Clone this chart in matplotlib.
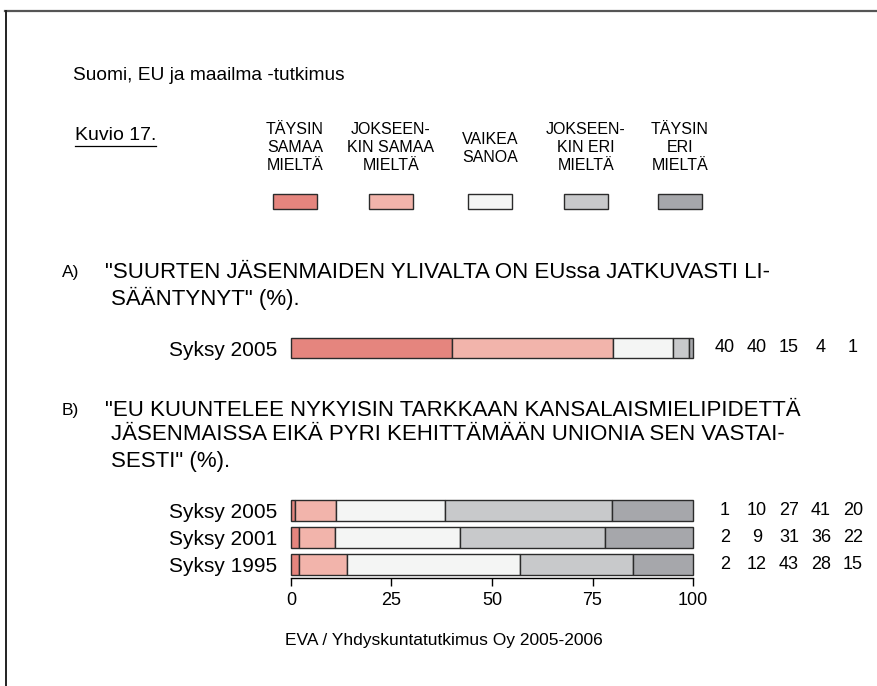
import matplotlib
matplotlib.use("Agg")
import matplotlib.pyplot as plt
from matplotlib.lines import Line2D
from matplotlib.patches import Rectangle

W, H = 878, 686

# Data
legend_labels = [
    "TÄYSIN\nSAMAA\nMIELTÄ",
    "JOKSEEN-\nKIN SAMAA\nMIELTÄ",
    "VAIKEA\nSANOA",
    "JOKSEEN-\nKIN ERI\nMIELTÄ",
    "TÄYSIN\nERI\nMIELTÄ",
]
colors = ["#e5857e", "#f2b4ab", "#f4f5f4", "#c8c9cb", "#a6a7ab"]

categories_a = ["Syksy 2005"]
values_a = [[40, 40, 15, 4, 1]]

categories_b = ["Syksy 2005", "Syksy 2001", "Syksy 1995"]
values_b = [
    [1, 10, 27, 41, 20],
    [2, 9, 31, 36, 22],
    [2, 12, 43, 28, 15],
]
x_ticks = [0, 25, 50, 75, 100]

NARROW = ["Liberation Sans Narrow", "Liberation Sans", "DejaVu Sans"]
REG = ["Liberation Sans", "DejaVu Sans"]


def fx(x):
    return x / W


def fy(y):
    return 1 - y / H


def px_axes(fig, left, top, right, bottom):
    return fig.add_axes([fx(left), fy(bottom), (right - left) / W, (bottom - top) / H])


def stacked(ax, cats, rows, height):
    for i, row in enumerate(rows):
        total = sum(row)
        left = 0.0
        for v, c in zip(row, colors):
            w = v * 100.0 / total
            ax.barh(i, w, left=left, height=height, color=c,
                    edgecolor="#2b2b2b", linewidth=1.0, clip_on=False)
            left += w
    ax.set_xlim(0, 100)
    ax.set_ylim(len(rows) - 0.5, -0.5)
    ax.set_yticks(range(len(cats)))
    ax.set_yticklabels(cats, family=NARROW, fontsize=15)
    ax.tick_params(axis="y", length=0, pad=10)
    for s in ["top", "right", "left"]:
        ax.spines[s].set_visible(False)
    ax.patch.set_alpha(0)


def values_text(fig, rows, centers_y):
    col_x = [725, 757, 789, 821, 853]
    for row, cy in zip(rows, centers_y):
        for v, x in zip(row, col_x):
            fig.text(fx(x), fy(cy), str(v), ha="center", va="center",
                     family=NARROW, fontsize=13)


fig = plt.figure(figsize=(W / 100, H / 100), dpi=100)

# frame lines
fig.add_artist(Line2D([fx(5), 1], [fy(11), fy(11)], color="#555555", lw=1.6))
fig.add_artist(Line2D([fx(6), fx(6)], [fy(11), 0], color="#222222", lw=1.4))

fig.text(fx(73), fy(76), "Suomi, EU ja maailma -tutkimus", ha="left", va="center",
         family=REG, fontsize=13.8)

kuvio = fig.text(fx(75), fy(135), "Kuvio 17.", ha="left", va="center",
                 family=REG, fontsize=14)
fig.canvas.draw()
kb = kuvio.get_window_extent()
fig.add_artist(Line2D([kb.x0 / W, kb.x1 / W], [fy(146), fy(146)], color="black", lw=0.9))

# legend
leg_x = [295, 391, 490, 586, 680]
for lab, c, x in zip(legend_labels, colors, leg_x):
    fig.text(fx(x), fy(148), lab, ha="center", va="center", family=NARROW,
             fontsize=11.5, linespacing=1.25, multialignment="center")
    fig.add_artist(Rectangle((fx(x - 22), fy(209)), 44 / W, 15 / H,
                             facecolor=c, edgecolor="#2b2b2b", lw=1.0,
                             transform=fig.transFigure))

# question A
fig.text(fx(62), fy(273), "A)", ha="left", va="center", family=REG, fontsize=12.5)
fig.text(fx(105), fy(273), "\"SUURTEN JÄSENMAIDEN YLIVALTA ON EUssa JATKUVASTI LI-",
         ha="left", va="center", family=REG, fontsize=16)
fig.text(fx(111), fy(298), "SÄÄNTYNYT\" (%).", ha="left", va="center",
         family=REG, fontsize=16)

axA = px_axes(fig, 291, 334.5, 693, 361.5)
stacked(axA, categories_a, values_a, 20 / 27)
axA.spines["bottom"].set_visible(False)
axA.set_xticks([])
values_text(fig, values_a, [348])

# question B
fig.text(fx(62), fy(410), "B)", ha="left", va="center", family=REG, fontsize=12.5)
fig.text(fx(105), fy(410), "\"EU KUUNTELEE NYKYISIN TARKKAAN KANSALAISMIELIPIDETTÄ",
         ha="left", va="center", family=REG, fontsize=16)
fig.text(fx(111), fy(435), "JÄSENMAISSA EIKÄ PYRI KEHITTÄMÄÄN UNIONIA SEN VASTAI-",
         ha="left", va="center", family=REG, fontsize=16)
fig.text(fx(111), fy(461), "SESTI\" (%).", ha="left", va="center",
         family=REG, fontsize=16)

axB = px_axes(fig, 291, 497, 693, 578)
stacked(axB, categories_b, values_b, 21 / 27)
axB.set_xticks(x_ticks)
axB.set_xticklabels([str(v) for v in x_ticks], family=NARROW, fontsize=13)
axB.tick_params(axis="x", length=6, width=1, pad=4)
axB.spines["bottom"].set_linewidth(1)
values_text(fig, values_b, [510.5, 537.5, 564.5])

fig.text(fx(444), fy(641), "EVA / Yhdyskuntatutkimus Oy 2005-2006", ha="center",
         va="center", family=REG, fontsize=12.5)

fig.savefig("out.png", dpi=100)
